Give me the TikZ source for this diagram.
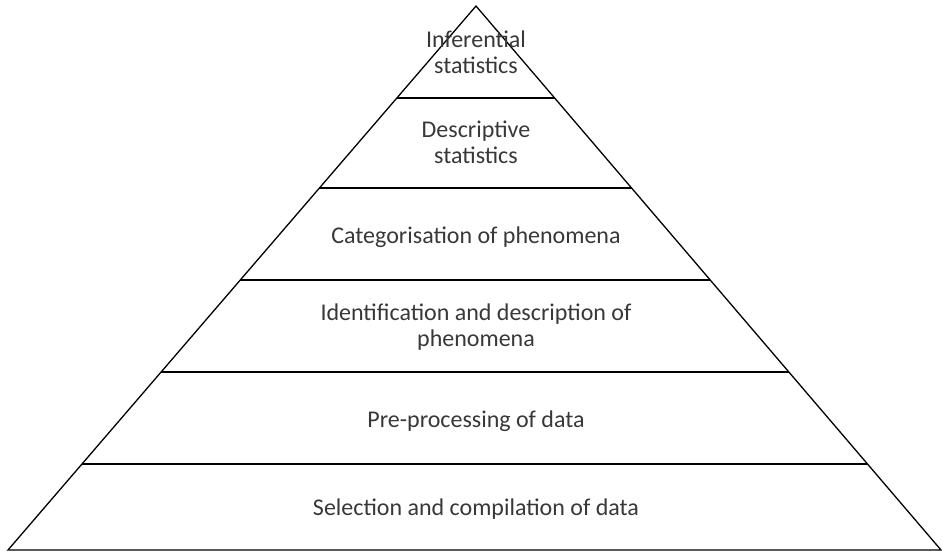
\documentclass[tikz,border=0pt]{standalone}
\usepackage{fontspec}
\setmainfont{Carlito}
\usetikzlibrary{calc}
\definecolor{txtgray}{HTML}{383838}
\tikzset{
  layer text/.style={align=center, text=txtgray, inner sep=0pt,
    font=\fontsize{24}{26}\selectfont},
}

\begin{document}
\begin{tikzpicture}[x=1pt,y=-1pt]
        \useasboundingbox (0,0) rectangle (942,555);

        % outline of the pyramid
        \coordinate (apex) at (476,6);
        \coordinate (bl) at (8,550);
        \coordinate (br) at (941,550);
        \draw[line width=1.3pt, line join=miter] (bl) -- (apex) -- (br) -- cycle;

        % layer boundaries
        \foreach \yy in {98,188,280,372,464}{
                \pgfmathsetmacro{\tt}{(\yy-6)/544}
                \draw[line width=1.3pt] ($(apex)!\tt!(bl)$) -- ($(apex)!\tt!(br)$);
        }

        \node[layer text] (infer) at (476,52) {Inferential\\statistics};
        \node[layer text] (descr) at (476,142) {Descriptive\\statistics};
        \node[layer text] (categ) at (476,237) {Categorisation of phenomena};
        \node[layer text] (ident) at (476,327) {Identification and description of\\phenomena};
        \node[layer text] (prepr) at (476,421) {Pre-processing of data};
        \node[layer text] (selec) at (476,509) {Selection and compilation of data};

\end{tikzpicture}
\end{document}
